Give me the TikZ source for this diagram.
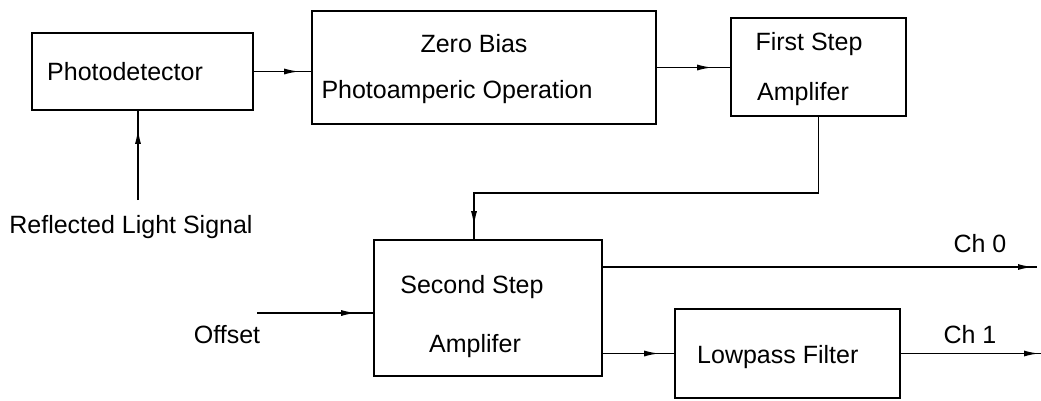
\documentclass[tikz,border=0pt]{standalone}
\usepackage{fontspec}
\setmainfont{Liberation Sans}
\usetikzlibrary{arrows.meta,decorations.markings}
\begin{document}
\begin{tikzpicture}[x=1pt,y=-1pt,
  blk/.style={draw,line width=1.6pt,rectangle,inner sep=0pt},
  txt/.style={inner sep=0pt,font=\fontsize{25}{29}\selectfont},
  wire/.style={line width=1.6pt},
  sig/.style={wire,postaction={decorate},
    decoration={markings,mark=at position #1 with {\arrow{Latex[length=15pt,width=6pt]}}}},
  sig/.default=-14pt]
\useasboundingbox (0,0) rectangle (1041,400);
% blocks
\node[blk,minimum width=221pt,minimum height=77pt] (pd) at (142.5,71.5) {};
\node[blk,minimum width=344pt,minimum height=113pt] (zb) at (484,67.5) {};
\node[blk,minimum width=175pt,minimum height=98pt] (fs) at (818.5,67) {};
\node[blk,minimum width=228pt,minimum height=136pt] (sa) at (488,308) {};
\node[blk,minimum width=225pt,minimum height=89pt] (lp) at (787.5,353.5) {};
% texts
\node[txt,anchor=base west] (tpd) at (47,80) {Photodetector};
\node[txt,anchor=base] (tzb1) at (474,52) {Zero Bias};
\node[txt,anchor=base] (tzb2) at (457,98) {Photoamperic Operation};
\node[txt,anchor=base] (tfs1) at (809,50) {First Step};
\node[txt,anchor=base] (tfs2) at (803,100) {Amplifer};
\node[txt,anchor=base] (tsa1) at (472,293) {Second Step};
\node[txt,anchor=base] (tsa2) at (475,352) {Amplifer};
\node[txt,anchor=base west] (tlp) at (697,363) {Lowpass Filter};
\node[txt,anchor=base] (trl) at (131,233) {Reflected Light Signal};
\node[txt,anchor=base] (toff) at (227,343) {Offset};
\node[txt,anchor=base] (tch0) at (980,252) {Ch 0};
\node[txt,anchor=base] (tch1) at (970,343) {Ch 1};
% free ends
\coordinate (rl) at (138,200);
\coordinate (fb) at (474,193);
\coordinate (off) at (257,313);
\coordinate (ch0) at (1037,267);
\coordinate (ch1) at (1041,356);
% connectors
\draw[sig=-12pt] (pd.east) -- (pd.east -| zb.west);
\draw[sig=-18pt] (zb.east) -- (zb.east -| fs.west);
\draw[sig=-18pt] (rl) -- (rl |- pd.south);
\draw[sig=-13pt] (fs.south) |- (fb) -- (fb |- sa.north);
\draw[sig=-17pt] (off) -- (off -| sa.west);
\draw[sig=-4pt] (ch0 -| sa.east) -- (ch0);
\draw[sig=-15pt] (sa.east |- lp.west) -- (lp.west);
\draw[sig=-2pt] (lp.east) -- (lp.east -| ch1);
\end{tikzpicture}
\end{document}
